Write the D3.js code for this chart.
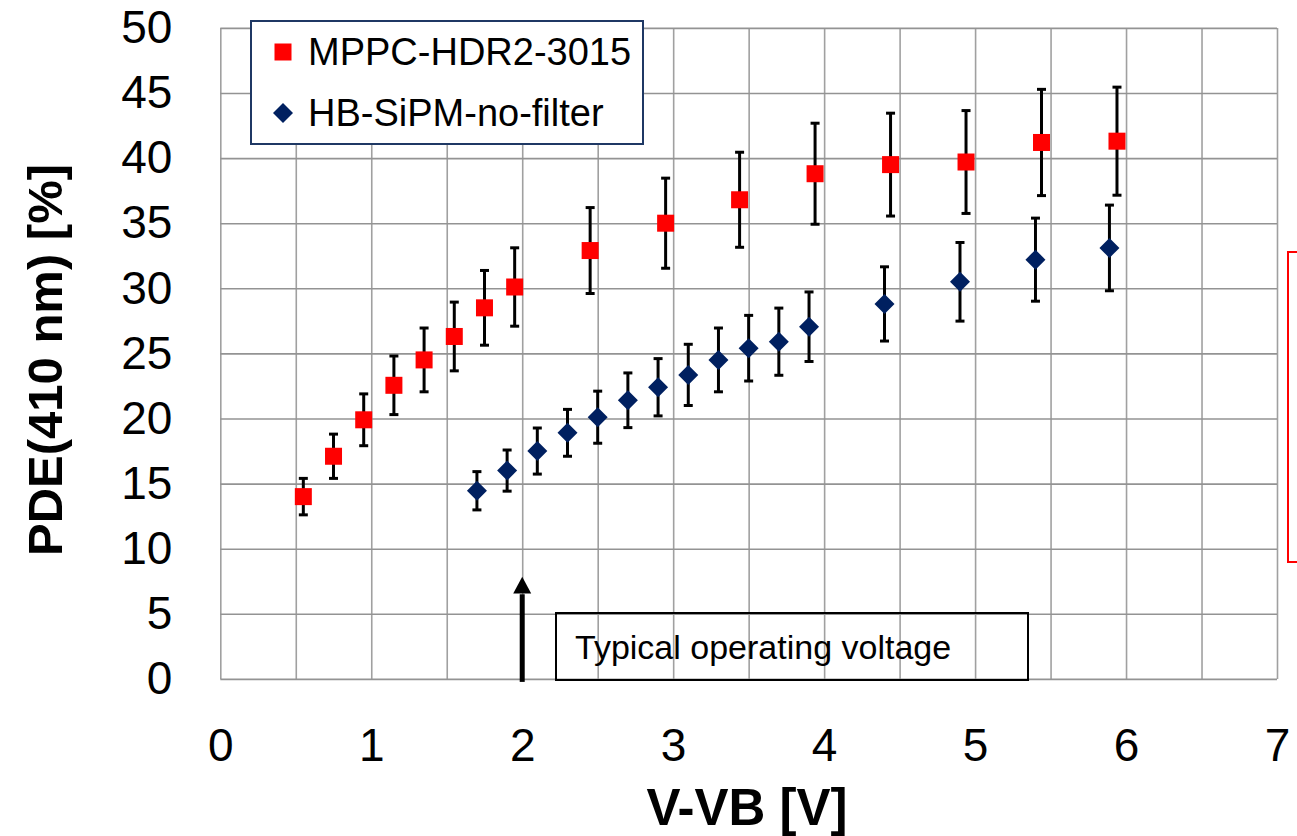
<!DOCTYPE html>
<html><head><meta charset="utf-8">
<script src="https://cdn.jsdelivr.net/npm/d3@7"></script>
<style>
html,body{margin:0;padding:0;background:#fff;}
svg{display:block;font-family:"Liberation Sans",Arial,sans-serif;}
</style></head><body>
<svg id="chart" width="1297" height="836"></svg>
<script>
// ---- data ----
const seriesNames = ["MPPC-HDR2-3015", "HB-SiPM-no-filter"];
const xRed   = [0.55,0.75,0.95,1.15,1.35,1.55,1.75,1.95,2.45,2.95,3.44,3.94,4.44,4.94,5.44,5.94];
const yRed   = [14.0,17.1,19.9,22.55,24.5,26.3,28.5,30.1,32.9,35.0,36.8,38.8,39.5,39.7,41.2,41.3];
const errRed = [1.40,1.70,1.99,2.25,2.45,2.64,2.87,3.01,3.30,3.46,3.65,3.88,3.95,3.95,4.08,4.15];
const xBlue  = [1.70,1.90,2.10,2.30,2.50,2.70,2.90,3.10,3.30,3.50,3.70,3.90,4.40,4.90,5.40,5.89];
const yBlue  = [14.45,16.0,17.5,18.9,20.1,21.4,22.4,23.35,24.5,25.4,25.9,27.05,28.8,30.5,32.2,33.1];
const errBlue= [1.47,1.58,1.77,1.80,2.00,2.10,2.20,2.35,2.45,2.52,2.58,2.67,2.85,3.02,3.19,3.29];
const xTicks = [0,1,2,3,4,5,6,7];
const yTicks = [0,5,10,15,20,25,30,35,40,45,50];
const xGrid  = d3.range(0, 7.01, 0.5);
const xTitle = "V-VB [V]";
const yTitle = "PDE(410 nm) [%]";
const noteText = "Typical operating voltage";
const noteX = 2;

// ---- layout ----
const svg = d3.select("#chart");
const L = 220.3, R = 1277, T = 27.9, B = 678.9;
const x = d3.scaleLinear().domain([0,7]).range([L,R]);
const y = d3.scaleLinear().domain([0,50]).range([B,T]);
const RED = "#ff0000", NAVY = "#002060", GRID = "#a0a0a0";

// gridlines
svg.append("g").attr("transform",`translate(0,${B})`)
  .call(d3.axisBottom(x).tickValues(xGrid).tickSize(-(B-T)).tickFormat(""))
  .call(g=>g.select(".domain").remove())
  .call(g=>g.selectAll("line").attr("stroke",GRID).attr("stroke-width",1.6));
svg.append("g").attr("transform",`translate(${L},0)`)
  .call(d3.axisLeft(y).tickValues(yTicks).tickSize(-(R-L)).tickFormat(""))
  .call(g=>g.select(".domain").remove())
  .call(g=>g.selectAll("line").attr("stroke","#939393").attr("stroke-width",1.6));

// axes labels
svg.append("g").attr("transform",`translate(0,${B})`)
  .call(d3.axisBottom(x).tickValues(xTicks).tickSize(0).tickPadding(49).tickFormat(d3.format("d")))
  .call(g=>g.select(".domain").remove())
  .call(g=>g.selectAll("text").attr("font-size",46).attr("fill","#000")
        .attr("font-family","Liberation Sans, Arial, sans-serif"));
svg.append("g").attr("transform",`translate(${L},0)`)
  .call(d3.axisLeft(y).tickValues(yTicks).tickSize(0).tickPadding(48).tickFormat(d3.format("d")))
  .call(g=>g.select(".domain").remove())
  .call(g=>g.selectAll("text").attr("font-size",46).attr("fill","#000")
        .attr("font-family","Liberation Sans, Arial, sans-serif"));

// axis titles
svg.append("text").attr("x",747).attr("y",825).attr("text-anchor","middle")
  .attr("font-size",51).attr("font-weight","bold").text(xTitle);
svg.append("text").attr("transform","translate(62,360) rotate(-90)").attr("text-anchor","middle")
  .attr("font-size",49).attr("font-weight","bold").text(yTitle);

// annotation: arrow + box
const ax = x(noteX);
svg.append("rect").attr("x",ax-2.5).attr("y",y(6.5)).attr("width",5).attr("height",y(0)+3-y(6.5)).attr("fill","#000");
svg.append("path").attr("d",`M${ax},${y(7.85)} L${ax-9},${y(6.55)} L${ax+9},${y(6.55)} Z`).attr("fill","#000");
svg.append("rect").attr("x",556).attr("y",613).attr("width",472).attr("height",67)
  .attr("fill","none").attr("stroke","#000").attr("stroke-width",2);
svg.append("text").attr("x",575).attr("y",659).attr("font-size",34).text(noteText);

// right red bracket box
svg.append("rect").attr("x",1288).attr("y",252).attr("width",60).attr("height",310)
  .attr("fill","none").attr("stroke",RED).attr("stroke-width",2);

// error bars + markers
function drawSeries(xs, ys, es, kind){
  const data = xs.map((d,i)=>({x:d,y:ys[i],e:es[i]}));
  const g = svg.append("g");
  const eb = g.selectAll("g.eb").data(data).join("g");
  eb.append("line").attr("x1",d=>x(d.x)).attr("x2",d=>x(d.x))
    .attr("y1",d=>y(d.y-d.e)).attr("y2",d=>y(d.y+d.e)).attr("stroke","#000").attr("stroke-width",3);
  eb.append("line").attr("x1",d=>x(d.x)-4.5).attr("x2",d=>x(d.x)+4.5)
    .attr("y1",d=>y(d.y+d.e)).attr("y2",d=>y(d.y+d.e)).attr("stroke","#000").attr("stroke-width",3);
  eb.append("line").attr("x1",d=>x(d.x)-4.5).attr("x2",d=>x(d.x)+4.5)
    .attr("y1",d=>y(d.y-d.e)).attr("y2",d=>y(d.y-d.e)).attr("stroke","#000").attr("stroke-width",3);
  if(kind==="square"){
    g.selectAll("rect.m").data(data).join("rect").attr("class","m")
      .attr("x",d=>x(d.x)-8.5).attr("y",d=>y(d.y)-8.5).attr("width",17).attr("height",17).attr("fill",RED);
  } else {
    g.selectAll("path.m").data(data).join("path").attr("class","m")
      .attr("d",d=>{const cx=x(d.x),cy=y(d.y),r=10;return `M${cx},${cy-r}L${cx+r},${cy}L${cx},${cy+r}L${cx-r},${cy}Z`;})
      .attr("fill",NAVY);
  }
}
drawSeries(xRed,yRed,errRed,"square");
drawSeries(xBlue,yBlue,errBlue,"diamond");

// legend
const lg = svg.append("g");
lg.append("rect").attr("x",251).attr("y",21).attr("width",392).attr("height",123)
  .attr("fill","#fff").attr("stroke","#1f3864").attr("stroke-width",2);
lg.append("rect").attr("x",283-8.5).attr("y",52-8.5).attr("width",17).attr("height",17).attr("fill",RED);
lg.append("path").attr("d","M283,103L293,113L283,123L273,113Z").attr("fill",NAVY);
lg.append("text").attr("x",308).attr("y",65).attr("font-size",38).text(seriesNames[0]);
lg.append("text").attr("x",308).attr("y",126).attr("font-size",38).text(seriesNames[1]);
</script>
</body></html>
